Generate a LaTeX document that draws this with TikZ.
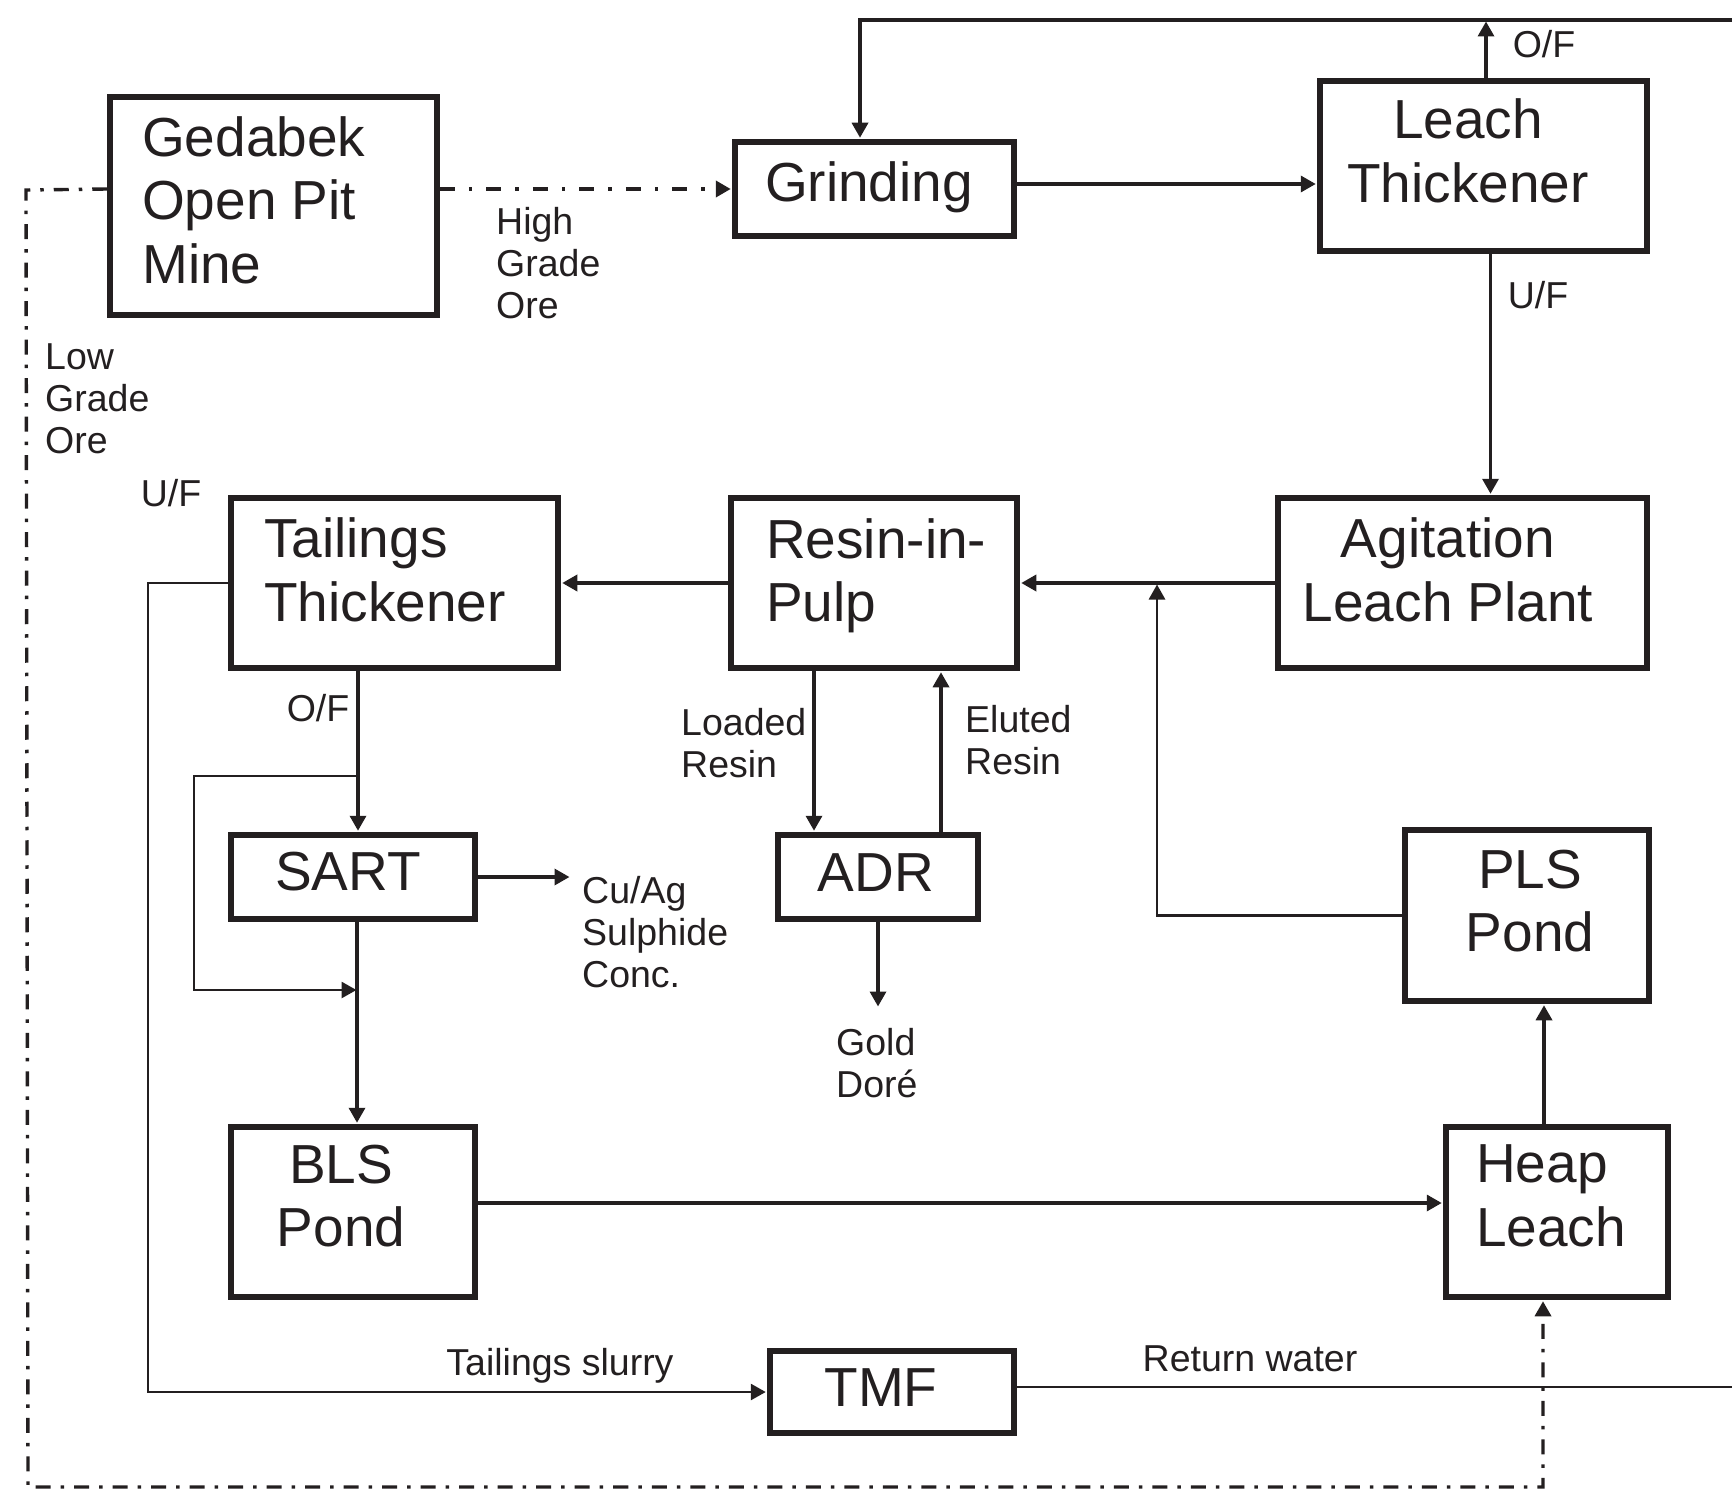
\documentclass[tikz,border=0pt]{standalone}
\usepackage{fontspec}
\setmainfont{Liberation Sans}
\usetikzlibrary{arrows.meta}
\definecolor{ink}{RGB}{35,31,32}
\begin{document}
\begin{tikzpicture}[x=1pt,y=-1pt,
  box/.style={draw=ink, line width=5.5pt, inner sep=0pt},
  big/.style={font=\fontsize{55}{63.5}\selectfont, text=ink, inner sep=0pt},
  small/.style={font=\fontsize{37.5}{42}\selectfont, text=ink, inner sep=0pt},
  conn/.style={draw=ink, line width=3.4pt},
  thinconn/.style={draw=ink, line width=2.8pt},
  arr/.style={-{Triangle[length=15pt,width=16pt]}, shorten >=1.5pt},
  ddhi/.style={draw=ink, line width=3.8pt, dash pattern=on 15pt off 14pt on 3.5pt off 14pt},
  ddlo/.style={draw=ink, line width=3.4pt, dash pattern=on 15pt off 10pt on 3.5pt off 10pt},
]
\useasboundingbox (0,0) rectangle (1732,1490);

% boxes
\node[box, minimum width=327pt, minimum height=218pt] (ged)   at (273.5,206) {};
\node[box, minimum width=279pt, minimum height=94pt]  (grind) at (874.5,189) {};
\node[box, minimum width=327pt, minimum height=170pt] (lt)    at (1483.5,166) {};
\node[box, minimum width=327pt, minimum height=170pt] (tt)    at (394.5,583) {};
\node[box, minimum width=286pt, minimum height=170pt] (rip)   at (874,583) {};
\node[box, minimum width=369pt, minimum height=170pt] (agit)  at (1462.5,583) {};
\node[box, minimum width=244pt, minimum height=84pt]  (sart)  at (353,877) {};
\node[box, minimum width=200pt, minimum height=84pt]  (adr)   at (878,877) {};
\node[box, minimum width=244pt, minimum height=171pt] (pls)   at (1527,915.5) {};
\node[box, minimum width=244pt, minimum height=170pt] (bls)   at (353,1212) {};
\node[box, minimum width=222pt, minimum height=170pt] (hl)    at (1557,1212) {};
\node[box, minimum width=244pt, minimum height=82pt]  (tmf)   at (892,1392) {};

% box texts
\node[big, align=left, anchor=west] (gedt) at (142,200) {Gedabek\\Open Pit\\Mine};
\node[big] (grindt) at (869,187) {Grinding};
\node[big, align=center] (ltt) at (1468,151) {Leach\\Thickener};
\node[big, align=left, anchor=west] (ttt) at (264,570) {Tailings\\Thickener};
\node[big, align=left, anchor=west] (ript) at (766,576) {Resin-in-\\Pulp};
\node[big, align=center] (agitt) at (1448,570) {Agitation\\Leach Plant};
\node[big] (sartt) at (348,872) {SART};
\node[big] (adrt) at (876,873) {ADR};
\node[big, align=center] (plst) at (1530,901) {PLS\\Pond};
\node[big, align=center] (blst) at (341,1196) {BLS\\Pond};
\node[big, align=left, anchor=west] (hlt) at (1476,1196) {Heap\\Leach};
\node[big] (tmft) at (881,1388) {TMF};

% labels
\node[small, align=left, anchor=west] (hgo) at (496,263) {High\\Grade\\Ore};
\node[small, align=left, anchor=west] (lgo) at (45,399) {Low\\Grade\\Ore};
\node[small] (uf1) at (171,493) {U/F};
\node[small] (of1) at (1544,44) {O/F};
\node[small] (uf2) at (1538,295) {U/F};
\node[small] (of2) at (318,708) {O/F};
\node[small, align=left, anchor=west] (lr) at (681,743) {Loaded\\Resin};
\node[small, align=left, anchor=west] (er) at (965,740) {Eluted\\Resin};
\node[small, align=left, anchor=west] (cu) at (582,932) {Cu/Ag\\Sulphide\\Conc.};
\node[small, align=left, anchor=west] (gd) at (836,1063) {Gold\\Dor\'e};
\node[small] (ts) at (560,1366) {Tailings slurry};
\node[small] (rw) at (1250,1359) {Return water};

% free ends
\coordinate (rtop) at (1732,20);
\coordinate (tl) at (860,20);
\coordinate (junc) at (1157,583);
\coordinate (cuend) at (571,877);
\coordinate (goldend) at (878,1008);
\coordinate (bypA) at (358,776);
\coordinate (bypL) at (194,776);
\coordinate (bypB) at (194,990);
\coordinate (ufx) at (148,1392);
\coordinate (rwend) at (1732,1387);
\coordinate (lg1) at (26,190);
\coordinate (lg2) at (28,1487);

% connectors
\draw[conn, arr] (rtop) -- (tl) -- (tl |- grind.north);
\draw[conn, arr] ([xshift=2.5pt]lt.north) -- ([xshift=2.5pt]lt.north |- tl);
\draw[conn, arr] ([yshift=5pt]grind.east) -- ([yshift=5pt]grind.east -| lt.west);
\draw[ddhi, arr] (ged.east |- grind.west) -- (grind.west);
\draw[ddlo, arr] (ged.west |- grind.west) -- (lg1) -- (lg2) -| ([xshift=-14pt]hl.south);
\draw[conn, arr] ([xshift=7pt]lt.south) -- ([xshift=7pt]lt.south |- agit.north);
\draw[conn, arr] (agit.west) -- (rip.east);
\draw[conn, arr] (rip.west) -- (tt.east);
\draw[thinconn, arr] (pls.west) -| (junc);
\draw[conn, arr] ([xshift=-60pt]rip.south) -- ([xshift=-60pt]rip.south |- adr.north);
\draw[conn, arr] ([xshift=67pt]rip.south |- adr.north) -- ([xshift=67pt]rip.south);
\draw[conn, arr] (adr.south) -- (goldend);
\draw[conn, arr] (sart.east) -- (cuend);
\draw[conn, arr] ([xshift=5pt]sart.north |- tt.south) -- ([xshift=5pt]sart.north);
\draw[thinconn, arr] (bypA) -- (bypL) -- (bypB) -- (bypB -| bypA);
\draw[conn, arr] ([xshift=4pt]sart.south) -- ([xshift=4pt]sart.south |- bls.north);
\draw[conn, arr] ([yshift=9pt]bls.east) -- ([yshift=9pt]bls.east -| hl.west);
\draw[conn, arr] ([xshift=-13pt]hl.north) -- ([xshift=-13pt]hl.north |- pls.south);
\draw[thinconn, arr] (tt.west) -| (ufx) -- (tmf.west);
\draw[thinconn] ([yshift=5pt]tmf.east) -- (rwend);
\end{tikzpicture}
\end{document}
